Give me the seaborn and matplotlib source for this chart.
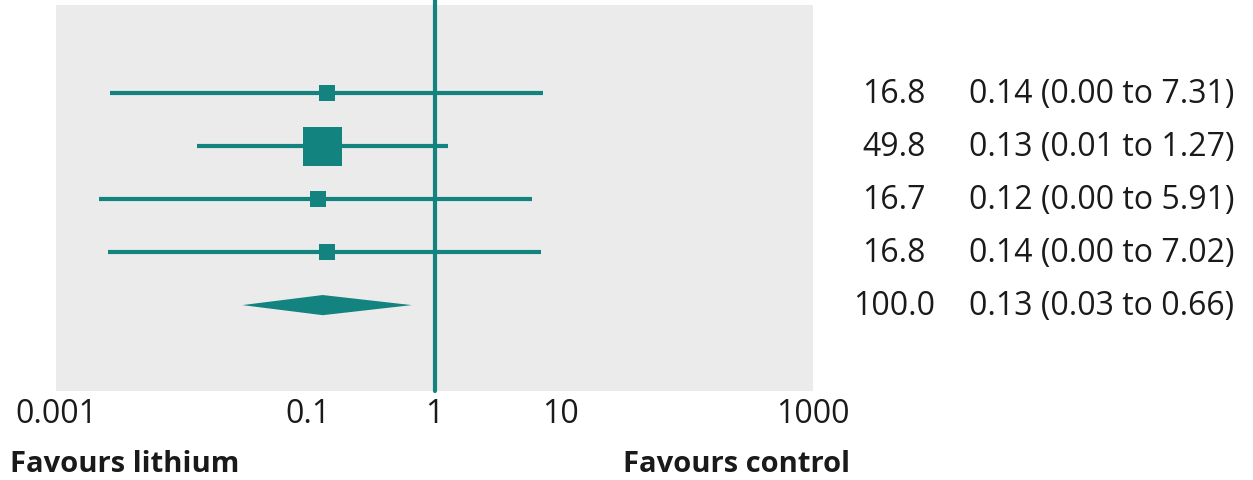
import numpy as np
import pandas as pd
import matplotlib
matplotlib.use("Agg")
import matplotlib.pyplot as plt
import seaborn as sns

# forest plot values
weights = [16.8, 49.8, 16.7, 16.8, 100.0]
odds_ratio = [0.14, 0.13, 0.12, 0.14, 0.13]
ci_low = [0.0027, 0.013, 0.0022, 0.0026, 0.03]
ci_high = [7.31, 1.27, 5.91, 7.02, 0.66]
x_ticks = [0.001, 0.1, 1, 10, 1000]
x_tick_labels = ["0.001", "0.1", "1", "10", "1000"]

teal = "#12837e"
grey_bg = "#ebebeb"
txt = "#1a1a1a"

sns.set_theme(style="white", rc={"axes.facecolor": grey_bg})
plt.rcParams["font.family"] = ["Open Sans", "DejaVu Sans"]

df = pd.DataFrame({
    "row": np.arange(1, len(weights) + 1),
    "weight": weights,
    "or": odds_ratio,
    "lo": ci_low,
    "hi": ci_high,
})
studies = df.iloc[:-1].copy()
pooled = df.iloc[-1]

fig = plt.figure(figsize=(12.53, 4.81), dpi=100)
ax = fig.add_axes([56 / 1253, 1 - 392 / 481, (813 - 56) / 1253, (392 - 6) / 481])

# confidence interval lines
ax.hlines(studies["row"], studies["lo"], studies["hi"], color=teal, lw=3, zorder=2)

# squares, side grows with study weight
side_px = 16 * (studies["weight"] / 16.8) ** 0.82
studies["s"] = (side_px * 0.72) ** 2
sns.scatterplot(data=studies, x="or", y="row", marker="s", s=studies["s"].values,
                color=teal, edgecolor=teal, linewidth=0, ax=ax, zorder=3, legend=False)

# pooled diamond
h = 0.19
r = pooled["row"]
ax.fill([pooled["lo"], pooled["or"], pooled["hi"], pooled["or"]],
        [r, r - h, r, r + h], color=teal, lw=0, zorder=3)

# line of no effect
ax.axvline(1, ymin=0, ymax=1.02, color=teal, lw=3, clip_on=False, zorder=1)

ax.set_xscale("log")
ax.set_xlim(0.001, 1000)
ax.set_ylim(6.62, -0.66)
ax.set_xticks(x_ticks)
ax.set_xticklabels(x_tick_labels)
ax.minorticks_off()
ax.set_yticks([])
ax.tick_params(axis="x", length=0, pad=4, labelsize=23, colors=txt)
ax.set_xlabel("")
ax.set_ylabel("")
for sp in ax.spines.values():
    sp.set_visible(False)

# right hand columns
for _, row in df.iterrows():
    y_fig = ax.transData.transform((1, row["row"]))[1] / fig.dpi / 4.81
    fig.text(894 / 1253, y_fig, f"{row['weight']:.1f}", ha="center", va="center",
             fontsize=23, color=txt)
    fig.text(969 / 1253, y_fig,
             f"{row['or']:.2f} ({row['lo']:.2f} to {row['hi']:.2f})",
             ha="left", va="center", fontsize=23, color=txt)

fig.text(10 / 1253, 1 - 465 / 481, "Favours lithium", ha="left", va="center",
         fontsize=21, fontweight="bold", color=txt)
fig.text(850 / 1253, 1 - 465 / 481, "Favours control", ha="right", va="center",
         fontsize=21, fontweight="bold", color=txt)

fig.savefig("out.png", dpi=100, facecolor="white")
